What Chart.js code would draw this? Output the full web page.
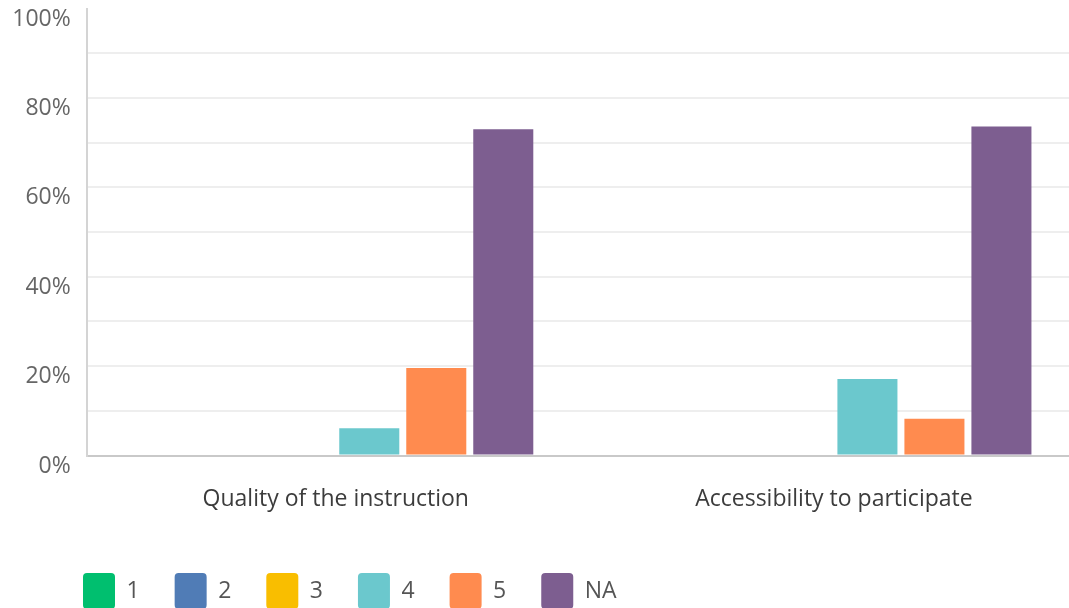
<!DOCTYPE html>
<html lang="en">
<head>
<meta charset="utf-8">
<title>Quality and accessibility ratings</title>
<script src="https://cdn.jsdelivr.net/npm/chart.js@4.4.1/dist/chart.umd.min.js"></script>
<style>
    html, body {
        margin: 0;
        padding: 0;
        background: #ffffff;
        overflow: hidden;
    }
    .chart-wrap {
        position: relative;
        width: 1084px;
        height: 619px;
    }
</style>
</head>
<body>
<div class="chart-wrap">
    <canvas id="ratingChart"></canvas>
</div>
<script>
// Chart data (percent of respondents)
const categories = ["Quality of the instruction", "Accessibility to participate"];
const ratingLabels = ["1", "2", "3", "4", "5", "NA"];
const rating1 = [0, 0];
const rating2 = [0, 0];
const rating3 = [0, 0];
const rating4 = [6.1, 17.1];
const rating5 = [19.6, 8.2];
const ratingNA = [73.0, 73.6];
const yTicks = [0, 20, 40, 60, 80, 100];

const ratingColors = ["#00BF6F", "#507CB6", "#F9BE00", "#6BC8CD", "#FF8B4F", "#7D5E90"];

// Legend sits further right than Chart.js would put it by default
const legendShift = {
    id: "legendShift",
    afterLayout(chart) {
        if (!chart.legend) return;
        chart.legend.left += 48;
        chart.legend.right += 48;
    }
};

document.addEventListener("DOMContentLoaded", () => {
    initRatingChart();
});

function initRatingChart() {
    const ctx = document.getElementById("ratingChart");
    if (!ctx) return;

    const seriesValues = [rating1, rating2, rating3, rating4, rating5, ratingNA];

    const datasets = seriesValues.map((values, i) => ({
        label: ratingLabels[i],
        data: values,
        backgroundColor: ratingColors[i],
        borderWidth: 0,
        categoryPercentage: 0.807,
        barPercentage: 0.896
    }));

    new Chart(ctx, {
        type: "bar",
        data: {
            labels: categories,
            datasets: datasets
        },
        plugins: [legendShift],
        options: {
            responsive: true,
            maintainAspectRatio: false,
            animation: false,
            layout: {
                padding: { left: 0, top: 8.5, right: 1, bottom: 0 }
            },
            plugins: {
                tooltip: { enabled: false },
                legend: {
                    position: "bottom",
                    align: "start",
                    labels: {
                        boxWidth: 32,
                        boxHeight: 36,
                        padding: 35,
                        useBorderRadius: true,
                        borderRadius: 4,
                        color: "#555555",
                        font: { family: "'Open Sans'", size: 23 }
                    }
                }
            },
            scales: {
                x: {
                    grid: { display: false, drawTicks: false },
                    border: { display: true, color: "#c9c9c9", width: 2 },
                    ticks: {
                        color: "#3c3c3c",
                        padding: 30,
                        font: { family: "'Open Sans'", size: 23 }
                    },
                    afterFit: (scale) => { scale.height = 82.5; }
                },
                y: {
                    min: 0,
                    max: 100,
                    ticks: {
                        stepSize: 10,
                        autoSkip: false,
                        padding: 16,
                        labelOffset: 10.5,
                        color: "#666666",
                        font: { family: "'Open Sans'", size: 23 },
                        callback: (value) => yTicks.includes(value) ? value + "%" : ""
                    },
                    grid: {
                        drawTicks: false,
                        lineWidth: 2,
                        color: (c) => (c.tick && (c.tick.value === 100 || c.tick.value === 0)) ? "rgba(0,0,0,0)" : "#eeeeee"
                    },
                    border: { display: true, color: "#d4d4d4", width: 2 },
                    afterFit: (scale) => {
                        scale.width = 86.7;
                        scale.paddingTop = 0;
                        scale.paddingBottom = 0;
                    }
                }
            }
        }
    });
}
</script>
</body>
</html>
